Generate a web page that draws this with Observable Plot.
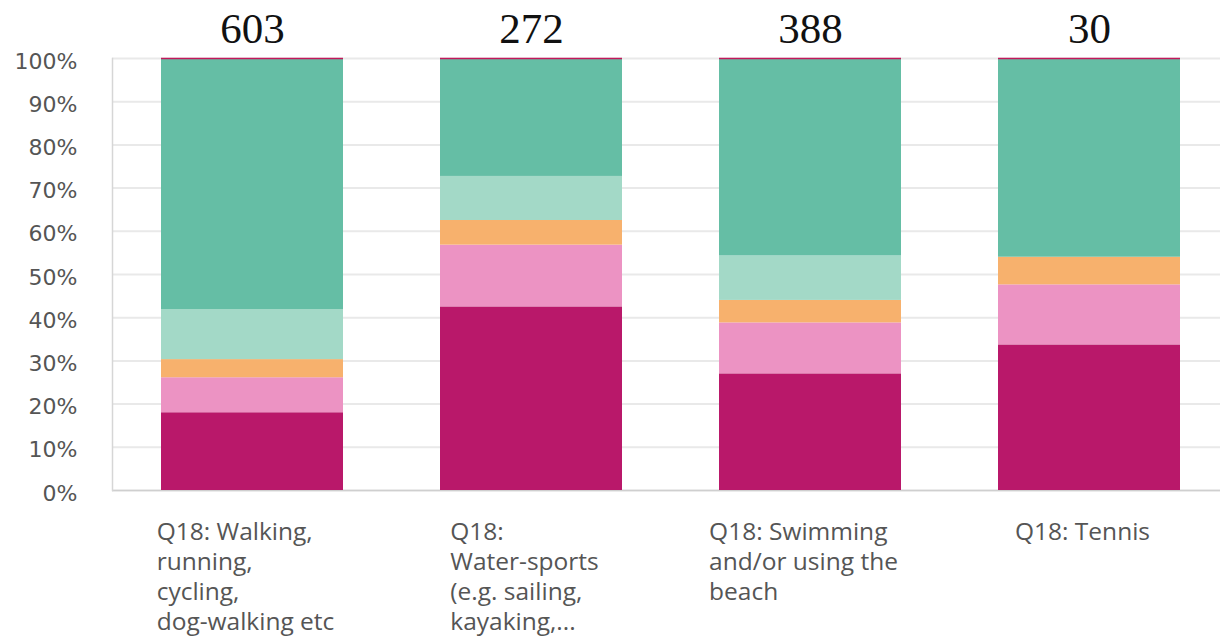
<!DOCTYPE html>
<html><head><meta charset="utf-8">
<script src="https://cdn.jsdelivr.net/npm/d3@7"></script>
<script src="https://cdn.jsdelivr.net/npm/@observablehq/plot@0.6"></script>
<style>html,body{margin:0;padding:0;background:#fff}</style>
</head><body><div id="chart"></div>
<script>
const categories = [
  "Q18: Walking, running, cycling, dog-walking etc",
  "Q18: Water-sports (e.g. sailing, kayaking,...",
  "Q18: Swimming and/or using the beach",
  "Q18: Tennis"
];
const labelLines = [
  ["Q18: Walking,", "running,", "cycling,", "dog-walking etc"],
  ["Q18:", "Water-sports", "(e.g. sailing,", "kayaking,..."],
  ["Q18: Swimming", "and/or using the", "beach"],
  ["Q18: Tennis"]
];
const counts = [603, 272, 388, 30];
const seriesNames = ["Option 1", "Option 2", "Option 3", "Option 4", "Option 5"];
const seriesColors = ["#B9186A", "#EC93C3", "#F7B16D", "#A3D9C7", "#65BEA5"];
const s1 = [18.0, 42.5, 27.0, 33.7];
const s2 = [8.1, 14.3, 11.8, 13.9];
const s3 = [4.2, 5.7, 5.2, 6.4];
const s4 = [11.6, 10.2, 10.3, 0];
const s5 = [58.1, 27.3, 45.7, 46.0];
const yTicks = [0, 10, 20, 30, 40, 50, 60, 70, 80, 90, 100];

const series = [s1, s2, s3, s4, s5];
const rows = [];
categories.forEach((c, i) => series.forEach((s, j) => rows.push({cat: c, series: seriesNames[j], value: s[i]})));

const plot = Plot.plot({
  width: 1220,
  height: 638,
  marginLeft: 112,
  marginRight: 0,
  marginTop: 58,
  marginBottom: 148,
  style: {fontFamily: "'Open Sans', sans-serif", fontSize: "24px", color: "#555", background: "#fff"},
  x: {domain: categories, range: [112, 1229], paddingInner: 0.349, paddingOuter: 0.1716, axis: null},
  y: {domain: [0, 100], axis: null},
  color: {domain: seriesNames, range: seriesColors},
  marks: [
    Plot.ruleY(yTicks, {stroke: "#e9e9e9", strokeWidth: 2}),
    Plot.ruleY([0], {stroke: "#cfcfcf", strokeWidth: 1.5}),
    Plot.frame({anchor: "left", stroke: "#d6d6d6", strokeWidth: 1.5}),
    Plot.barY(rows, {x: "cat", y: "value", fill: "series"}),
    Plot.tickY(categories, {x: d => d, y: () => 100, stroke: "#C2185B", strokeWidth: 1.5}),
    Plot.axisY({ticks: yTicks, tickFormat: d => d + "%", tickSize: 0, tickPadding: 35, label: null, fontFamily: "'DejaVu Sans', sans-serif", fontSize: 22, fill: "#555", dy: 3}),
    Plot.text(categories, {x: d => d, y: () => 100, text: (d, i) => String(counts[i]), lineAnchor: "bottom", dy: -16, fontFamily: "'Liberation Serif', serif", fontSize: 43, fill: "#111"}),
    Plot.text(categories, {x: d => d, y: () => 0, text: (d, i) => labelLines[i].join("\n"), lineAnchor: "top", textAnchor: "start", dx: -7, dy: 28, lineHeight: 1.23, fontSize: 24.5, fill: "#555"})
  ]
});
document.getElementById("chart").appendChild(plot);
// center each left-aligned label block on its bar
const textGroups = plot.querySelectorAll('g[aria-label="text"]');
const labelGroup = textGroups[textGroups.length - 1];
labelGroup.querySelectorAll("text").forEach(t => {
  const w = t.getBBox().width;
  const tr = t.getAttribute("transform") || "";
  t.setAttribute("transform", tr + ` translate(${-w / 2},0)`);
});
</script>
</body></html>
